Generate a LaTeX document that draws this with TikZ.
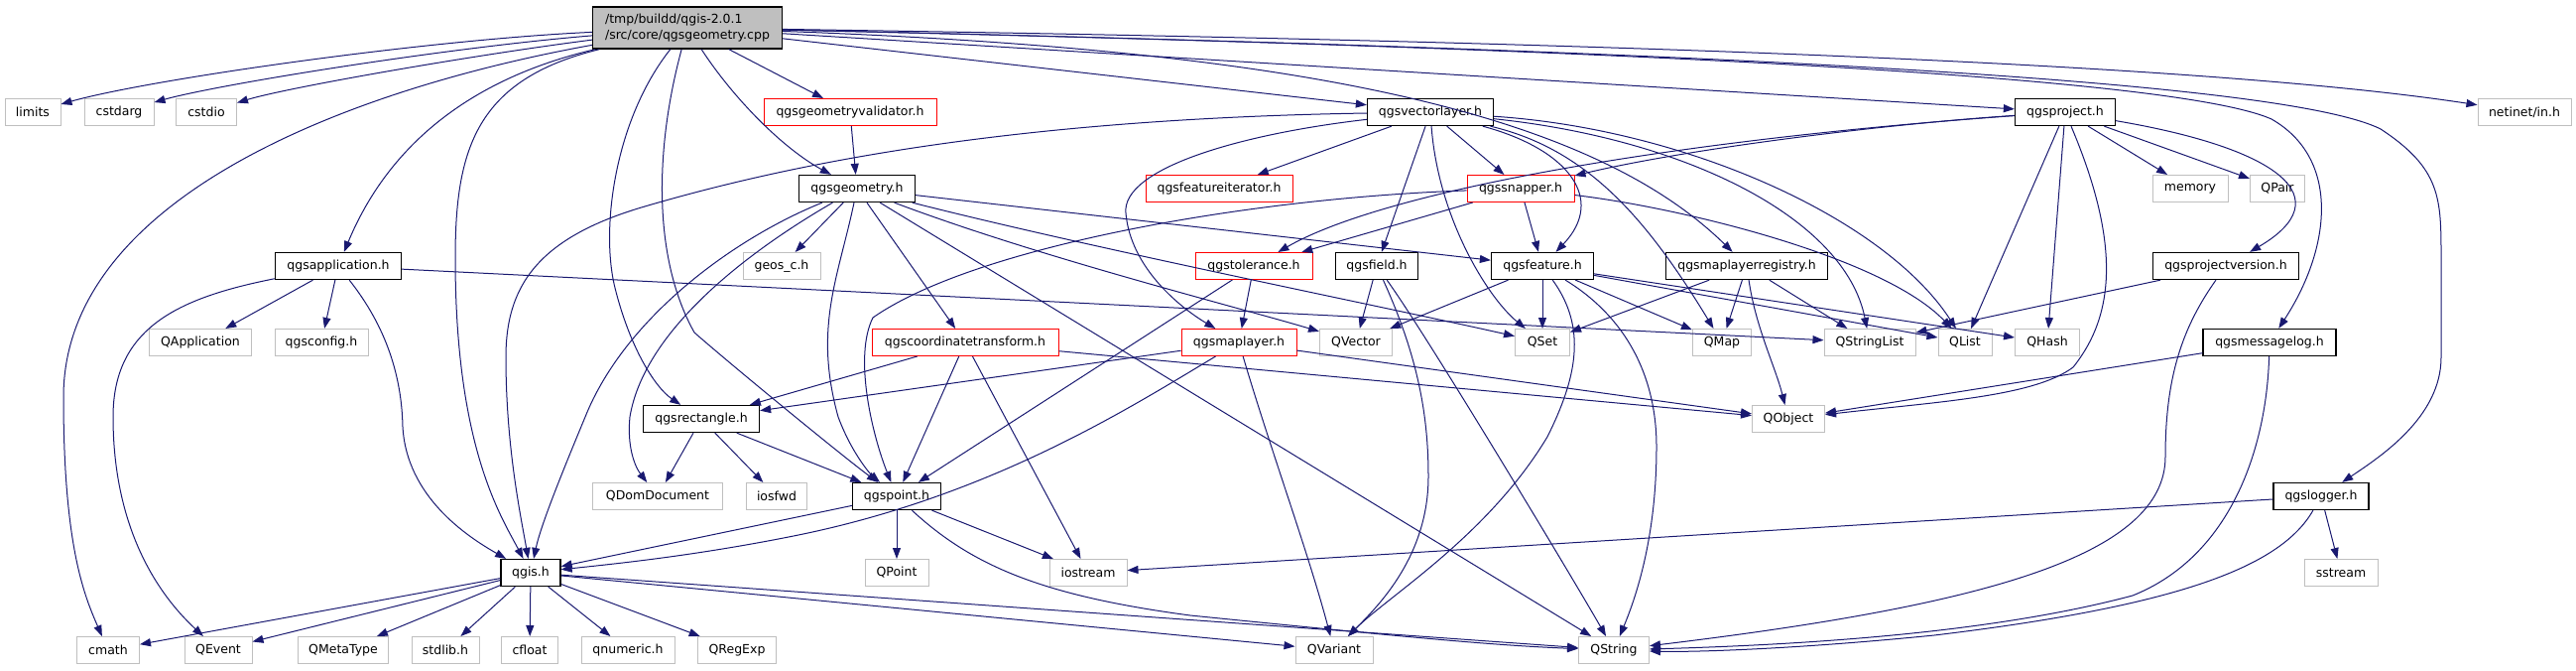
\documentclass[tikz,border=0pt]{standalone}
\usepackage{fontspec}
\setmainfont{DejaVu Sans}
\usetikzlibrary{arrows.meta}
\definecolor{edgec}{HTML}{191970}
\definecolor{grayb}{HTML}{BFBFBF}
\definecolor{redb}{HTML}{FF0000}
\begin{document}
\begin{tikzpicture}[x=1pt,y=-1pt,
  box/.style={rectangle, minimum height=27pt, inner sep=0pt, font=\fontsize{12.5}{16}\selectfont, fill=white, text=black},
  bbox/.style={box, draw=black, line width=1.3pt},
  rbox/.style={box, draw=redb, line width=1pt},
  gbox/.style={box, draw=grayb, line width=1pt},
  e/.style={draw=edgec, line width=1pt, -{Triangle[length=11pt,width=8pt]}}
]
\useasboundingbox (0,0) rectangle (2597,675);
% ---------- nodes ----------
\node[bbox, fill=grayb, minimum width=191pt, minimum height=42pt, align=left] (root) at (693,28) {/tmp/buildd/qgis-2.0.1\\/src/core/qgsgeometry.cpp};
\node[gbox, minimum width=56pt] (limits) at (33,113) {limits};
\node[gbox, minimum width=70pt] (cstdarg) at (120,113) {cstdarg};
\node[gbox, minimum width=61pt] (cstdio) at (208,113) {cstdio};
\node[rbox, minimum width=174pt] (validator) at (857,113) {qgsgeometryvalidator.h};
\node[bbox, minimum width=127pt] (vlayer) at (1442,113) {qgsvectorlayer.h};
\node[bbox, minimum width=101pt] (project) at (2082,113) {qgsproject.h};
\node[gbox, minimum width=94pt] (netinet) at (2545,113) {netinet/in.h};
\node[bbox, minimum width=117pt] (geometry) at (864,190) {qgsgeometry.h};
\node[rbox, minimum width=148pt] (fiter) at (1229,190) {qgsfeatureiterator.h};
\node[rbox, minimum width=108pt] (snapper) at (1533,190) {qgssnapper.h};
\node[gbox, minimum width=76pt] (memory) at (2208,190) {memory};
\node[gbox, minimum width=55pt] (qpair) at (2296,190) {QPair};
\node[bbox, minimum width=127pt] (app) at (341,268) {qgsapplication.h};
\node[gbox, minimum width=78pt] (geos) at (788,268) {geos\_c.h};
\node[rbox, minimum width=118pt] (tolerance) at (1264,268) {qgstolerance.h};
\node[bbox, minimum width=83pt] (field) at (1388,268) {qgsfield.h};
\node[bbox, minimum width=103pt] (feature) at (1555,268) {qgsfeature.h};
\node[bbox, minimum width=163pt] (registry) at (1761,268) {qgsmaplayerregistry.h};
\node[bbox, minimum width=147pt] (projver) at (2244,268) {qgsprojectversion.h};
\node[gbox, minimum width=103pt] (qapp) at (202,345) {QApplication};
\node[gbox, minimum width=94pt] (qgsconfig) at (324,345) {qgsconfig.h};
\node[rbox, minimum width=188pt] (coord) at (973,345) {qgscoordinatetransform.h};
\node[rbox, minimum width=116pt] (maplayer) at (1249,345) {qgsmaplayer.h};
\node[gbox, minimum width=73pt] (qvector) at (1367,345) {QVector};
\node[gbox, minimum width=55pt] (qset) at (1555,345) {QSet};
\node[gbox, minimum width=59pt] (qmap) at (1736,345) {QMap};
\node[gbox, minimum width=92pt] (qstrlist) at (1885,345) {QStringList};
\node[gbox, minimum width=54pt] (qlist) at (1981,345) {QList};
\node[gbox, minimum width=65pt] (qhash) at (2064,345) {QHash};
\node[bbox, minimum width=134pt] (msglog) at (2288,345) {qgsmessagelog.h};
\node[bbox, minimum width=117pt] (rect) at (707,422) {qgsrectangle.h};
\node[gbox, minimum width=73pt] (qobject) at (1803,422) {QObject};
\node[gbox, minimum width=131pt] (qdom) at (663,500) {QDomDocument};
\node[gbox, minimum width=61pt] (iosfwd) at (783,500) {iosfwd};
\node[bbox, minimum width=89pt] (point) at (904,500) {qgspoint.h};
\node[bbox, minimum width=96pt] (logger) at (2340,500) {qgslogger.h};
\node[bbox, minimum width=60pt] (qgis) at (535,577) {qgis.h};
\node[gbox, minimum width=64pt] (qpoint) at (904,577) {QPoint};
\node[gbox, minimum width=78pt] (iostream) at (1097,577) {iostream};
\node[gbox, minimum width=74pt] (sstream) at (2360,577) {sstream};
\node[gbox, minimum width=63pt] (cmath) at (109,655) {cmath};
\node[gbox, minimum width=68pt] (qevent) at (220,655) {QEvent};
\node[gbox, minimum width=91pt] (qmetatype) at (346,655) {QMetaType};
\node[gbox, minimum width=68pt] (stdlib) at (449,655) {stdlib.h};
\node[gbox, minimum width=57pt] (cfloat) at (534,655) {cfloat};
\node[gbox, minimum width=94pt] (qnumeric) at (633,655) {qnumeric.h};
\node[gbox, minimum width=79pt] (qregexp) at (743,655) {QRegExp};
\node[gbox, minimum width=78pt] (qvariant) at (1345,655) {QVariant};
\node[gbox, minimum width=71pt] (qstring) at (1627,655) {QString};
% ---------- edges: root ----------
\draw[e] (root) .. controls (430,40) and (150,80) .. (limits);
\draw[e] (root) .. controls (450,48) and (220,85) .. (cstdarg);
\draw[e] (root) .. controls (480,55) and (290,88) .. (cstdio);
\draw[e] (root) .. controls (350,90) and (64,200) .. (64,400) .. controls (64,550) and (85,600) .. (cmath);
\draw[e] (root) .. controls (470,80) and (390,150) .. (app);
\draw[e] (root) .. controls (480,80) and (459,150) .. (459,260) .. controls (459,450) and (505,520) .. (qgis);
\draw[e] (root) .. controls (620,120) and (605,230) .. (620,290) .. controls (635,350) and (660,390) .. (rect);
\draw[e] (root) .. controls (660,150) and (658,260) .. (700,335) .. controls (740,370) and (850,460) .. (point);
\draw[e] (root) .. controls (740,100) and (790,150) .. (geometry);
\draw[e] (root) -- (validator);
\draw[e] (root) -- (vlayer);
\draw[e] (root) -- (project);
\draw[e] (root) .. controls (1500,40) and (2200,60) .. (netinet);
\draw[e] (root) .. controls (1300,50) and (1600,110) .. (registry);
\draw[e] (root) .. controls (1700,50) and (2200,80) .. (2290,120) .. controls (2360,160) and (2350,250) .. (msglog);
\draw[e] (root) .. controls (1700,50) and (2300,80) .. (2400,130) .. controls (2461,170) and (2461,200) .. (2461,260) -- (2461,360) .. controls (2461,420) and (2400,460) .. (logger);
% ---------- qgsapplication ----------
\draw[e] (app) -- (qapp);
\draw[e] (app) -- (qgsconfig);
\draw[e] (app) .. controls (390,330) and (405,380) .. (406,430) .. controls (410,500) and (470,540) .. (qgis);
\draw[e] (app) .. controls (180,300) and (114,330) .. (114,420) .. controls (114,520) and (150,590) .. (qevent);
\draw[e] (app) -- (qstrlist);
% ---------- validator, geometry ----------
\draw[e] (validator) -- (geometry);
\draw[e] (geometry) -- (geos);
\draw[e] (geometry) .. controls (740,240) and (630,320) .. (590,420) .. controls (565,480) and (545,530) .. (qgis);
\draw[e] (geometry) .. controls (760,250) and (650,330) .. (635,420) .. controls (632,450) and (640,470) .. (qdom);
\draw[e] (geometry) .. controls (845,280) and (820,330) .. (845,420) .. controls (860,460) and (880,480) .. (point);
\draw[e] (geometry) -- (coord);
\draw[e] (geometry) -- (qstring);
\draw[e] (geometry) .. controls (1050,260) and (1250,310) .. (qvector);
\draw[e] (geometry) .. controls (1100,250) and (1400,310) .. (qset);
\draw[e] (geometry) -- (feature);
% ---------- vector layer ----------
\draw[e] (vlayer) .. controls (1000,120) and (780,170) .. (650,208) .. controls (540,240) and (510,290) .. (510,360) .. controls (510,450) and (525,520) .. (qgis);
\draw[e] (vlayer) .. controls (1250,135) and (1130,170) .. (1135,215) .. controls (1140,270) and (1190,310) .. (maplayer);
\draw[e] (vlayer) -- (fiter);
\draw[e] (vlayer) -- (field);
\draw[e] (vlayer) .. controls (1450,220) and (1500,300) .. (qset);
\draw[e] (vlayer) -- (snapper);
\draw[e] (vlayer) .. controls (1580,150) and (1620,200) .. (feature);
\draw[e] (vlayer) .. controls (1600,150) and (1660,220) .. (qmap);
\draw[e] (vlayer) .. controls (1700,140) and (1860,220) .. (qstrlist);
\draw[e] (vlayer) .. controls (1700,130) and (1900,220) .. (qlist);
% ---------- snapper ----------
\draw[e] (snapper) .. controls (1250,200) and (980,250) .. (880,320) .. controls (860,360) and (880,440) .. (point);
\draw[e] (snapper) -- (tolerance);
\draw[e] (snapper) -- (feature);
\draw[e] (snapper) .. controls (1700,210) and (1900,260) .. (qlist);
% ---------- feature ----------
\draw[e] (feature) -- (qvector);
\draw[e] (feature) -- (qset);
\draw[e] (feature) .. controls (1600,330) and (1590,380) .. (1560,440) .. controls (1500,540) and (1400,600) .. (qvariant);
\draw[e] (feature) .. controls (1640,320) and (1670,380) .. (1670,450) .. controls (1670,540) and (1650,600) .. (qstring);
\draw[e] (feature) -- (qmap);
\draw[e] (feature) -- (qlist);
\draw[e] (feature) -- (qhash);
% ---------- field ----------
\draw[e] (field) -- (qvector);
\draw[e] (field) .. controls (1430,360) and (1440,420) .. (1440,480) .. controls (1440,560) and (1390,610) .. (qvariant);
\draw[e] (field) .. controls (1440,340) and (1590,590) .. (qstring);
% ---------- registry ----------
\draw[e] (registry) -- (qset);
\draw[e] (registry) -- (qmap);
\draw[e] (registry) .. controls (1770,330) and (1790,370) .. (qobject);
\draw[e] (registry) -- (qstrlist);
% ---------- tolerance ----------
\draw[e] (tolerance) -- (maplayer);
\draw[e] (tolerance) -- (point);
% ---------- maplayer ----------
\draw[e] (maplayer) -- (rect);
\draw[e] (maplayer) .. controls (1140,410) and (1000,500) .. (800,540) .. controls (700,560) and (620,568) .. (qgis);
\draw[e] (maplayer) .. controls (1280,450) and (1320,560) .. (qvariant);
\draw[e] (maplayer) -- (qobject);
% ---------- coordinate transform ----------
\draw[e] (coord) -- (rect);
\draw[e] (coord) -- (point);
\draw[e] (coord) -- (iostream);
\draw[e] (coord) -- (qobject);
% ---------- rectangle ----------
\draw[e] (rect) -- (qdom);
\draw[e] (rect) -- (iosfwd);
\draw[e] (rect) -- (point);
% ---------- point ----------
\draw[e] (point) -- (qgis);
\draw[e] (point) -- (qpoint);
\draw[e] (point) -- (iostream);
\draw[e] (point) .. controls (980,570) and (1050,600) .. (1200,620) .. controls (1400,640) and (1500,650) .. (qstring);
% ---------- qgis ----------
\draw[e] (qgis) -- (cmath);
\draw[e] (qgis) -- (qevent);
\draw[e] (qgis) -- (qmetatype);
\draw[e] (qgis) -- (stdlib);
\draw[e] (qgis) -- (cfloat);
\draw[e] (qgis) -- (qnumeric);
\draw[e] (qgis) -- (qregexp);
\draw[e] (qgis) -- (qvariant);
\draw[e] (qgis) -- (qstring);
% ---------- project ----------
\draw[e] (project) .. controls (1900,125) and (1700,150) .. (snapper);
\draw[e] (project) .. controls (1700,140) and (1400,190) .. (tolerance);
\draw[e] (project) -- (qlist);
\draw[e] (project) -- (qhash);
\draw[e] (project) .. controls (2140,250) and (2130,320) .. (2090,370) .. controls (2050,400) and (1950,405) .. (qobject);
\draw[e] (project) -- (memory);
\draw[e] (project) -- (qpair);
\draw[e] (project) .. controls (2300,150) and (2360,200) .. (projver);
% ---------- project version ----------
\draw[e] (projver) -- (qstrlist);
\draw[e] (projver) .. controls (2200,330) and (2183,380) .. (2183,460) .. controls (2183,560) and (2000,610) .. (qstring);
% ---------- message log ----------
\draw[e] (msglog) -- (qobject);
\draw[e] (msglog) .. controls (2285,450) and (2250,560) .. (2150,600) .. controls (2000,640) and (1800,650) .. (qstring);
% ---------- logger ----------
\draw[e] (logger) -- (iostream);
\draw[e] (logger) -- (sstream);
\draw[e] (logger) .. controls (2300,570) and (2200,610) .. (1950,640) .. controls (1800,655) and (1700,657) .. (qstring);
\end{tikzpicture}
\end{document}
